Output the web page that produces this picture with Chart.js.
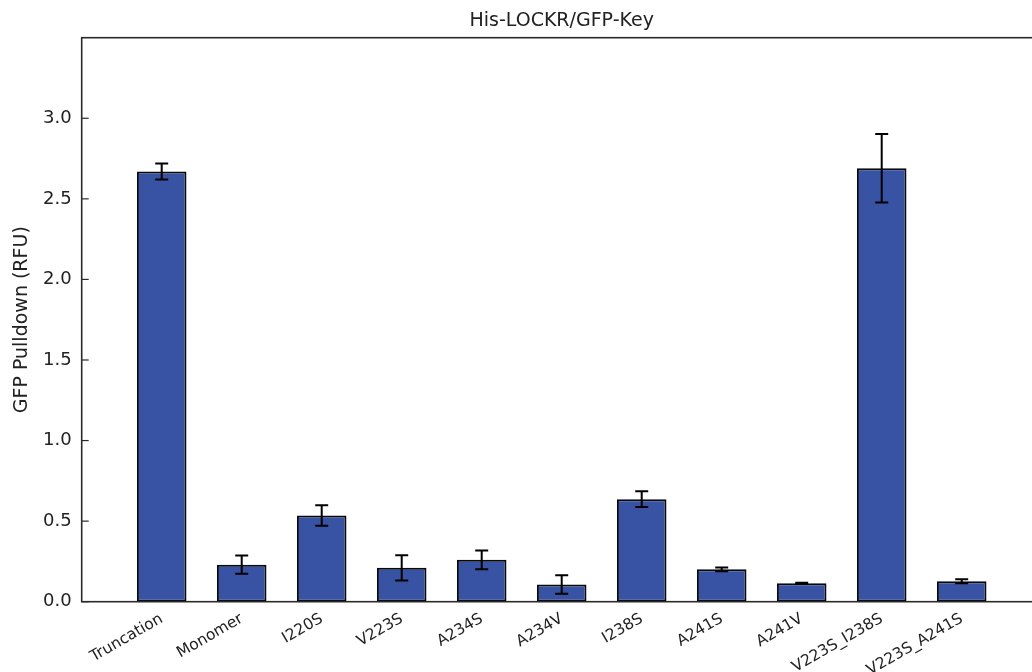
<!DOCTYPE html>
<html>
<head>
<meta charset="utf-8">
<script src="https://cdn.jsdelivr.net/npm/chart.js@4/dist/chart.umd.min.js"></script>
<style>
  html, body { margin: 0; padding: 0; background: #fff; overflow: hidden; }
  #wrap { position: relative; width: 1060px; height: 672px; }
</style>
</head>
<body>
<div id="wrap"><canvas id="chart"></canvas></div>
<script>
// GFP pulldown per construct, mean and error
const categories = ['Truncation', 'Monomer', 'I220S', 'V223S', 'A234S', 'A234V',
                    'I238S', 'A241S', 'A241V', 'V223S_I238S', 'V223S_A241S'];
const pulldown = [2.67, 0.23, 0.535, 0.21, 0.26, 0.107, 0.636, 0.201, 0.114, 2.69, 0.127];
const errors   = [0.05, 0.056, 0.064, 0.078, 0.058, 0.057, 0.049, 0.012, 0.004, 0.213, 0.013];
const yTicks   = [0, 0.5, 1.0, 1.5, 2.0, 2.5, 3.0];

const FONT = "'DejaVu Sans', 'Liberation Sans', sans-serif";
const INK = '#222';

// Axes frame, inward y tick marks and error bars
const decorations = {
  id: 'decorations',
  afterDatasetsDraw(chart) {
    const {ctx, chartArea: a, scales: {x, y}} = chart;
    ctx.save();
    // error bars
    ctx.strokeStyle = '#000';
    ctx.lineWidth = 2;
    pulldown.forEach((v, i) => {
      const px = x.getPixelForValue(i);
      const top = y.getPixelForValue(v + errors[i]);
      const bot = y.getPixelForValue(v - errors[i]);
      ctx.beginPath();
      ctx.moveTo(px, top); ctx.lineTo(px, bot);
      ctx.moveTo(px - 6.5, top); ctx.lineTo(px + 6.5, top);
      ctx.moveTo(px - 6.5, bot); ctx.lineTo(px + 6.5, bot);
      ctx.stroke();
    });
    // frame
    ctx.strokeStyle = '#2a2a2a';
    ctx.lineWidth = 1.6;
    ctx.strokeRect(a.left, a.top, a.right - a.left, a.bottom - a.top);
    // inward ticks on the left spine
    ctx.lineWidth = 1.2;
    yTicks.forEach(t => {
      const py = y.getPixelForValue(t);
      ctx.beginPath();
      ctx.moveTo(a.left, py); ctx.lineTo(a.left + 7, py);
      ctx.stroke();
    });
    ctx.restore();
  }
};

new Chart(document.getElementById('chart'), {
  type: 'bar',
  data: {
    datasets: [{
      data: pulldown.map((v, i) => ({x: i, y: v})),
      backgroundColor: '#3953a4',
      borderColor: '#0a0a0a',
      borderWidth: 2,
      borderSkipped: false,
      barPercentage: 0.62,
      categoryPercentage: 1
    }]
  },
  options: {
    responsive: true,
    maintainAspectRatio: false,
    devicePixelRatio: 1,
    animation: false,
    layout: { padding: { left: 0, right: 18.3, top: 0, bottom: 0 } },
    plugins: {
      legend: { display: false },
      tooltip: { enabled: false },
      title: {
        display: true,
        text: 'His-LOCKR/GFP-Key',
        fullSize: false,
        color: INK,
        font: { family: FONT, size: 19, weight: 'normal' },
        padding: { top: 10.1, bottom: 4.8 }
      }
    },
    scales: {
      x: {
        type: 'linear',
        min: -1,
        max: 11,
        offset: false,
        grid: { display: false, drawTicks: false, offset: false },
        border: { display: false },
        afterBuildTicks: s => { s.ticks = categories.map((c, i) => ({ value: i })); },
        afterFit: s => { s.height = 70.3; },
        ticks: {
          autoSkip: false,
          minRotation: 30,
          maxRotation: 30,
          padding: 8,
          color: INK,
          font: { family: FONT, size: 15.5 },
          callback: v => categories[v]
        }
      },
      y: {
        min: 0,
        max: 3.5,
        grid: { display: false, drawTicks: false },
        border: { display: false },
        afterBuildTicks: s => { s.ticks = yTicks.map(v => ({ value: v })); },
        afterFit: s => { s.width = 81.7; },
        ticks: {
          padding: 10,
          color: INK,
          font: { family: FONT, size: 18 },
          callback: v => Number(v).toFixed(1)
        },
        title: {
          display: true,
          text: 'GFP Pulldown (RFU)',
          color: INK,
          font: { family: FONT, size: 19 },
          padding: { top: 11, bottom: 0 }
        }
      }
    }
  },
  plugins: [decorations]
});
</script>
</body>
</html>
